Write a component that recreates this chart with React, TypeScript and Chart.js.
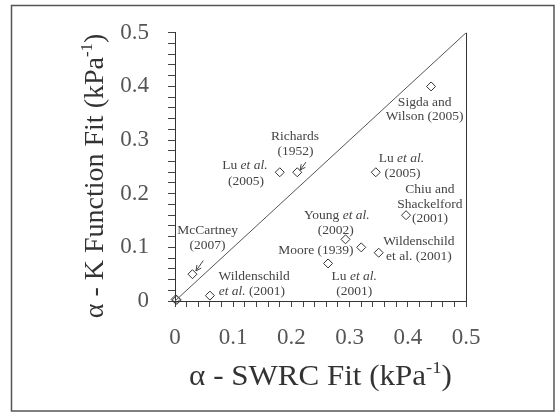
import React, { useEffect, useRef } from 'react';
import { Chart, registerables } from 'chart.js';

Chart.register(...registerables);

const SERIF = '"Liberation Serif", "Times New Roman", serif';

// Study names (for reference) and their fitted alpha values
const studies = [
  'Origin A', 'Origin B', 'McCartney (2007)', 'Wildenschild et al. (2001) a',
  'Lu et al. (2005) a', 'Richards (1952)', 'Lu et al. (2001)', 'Young et al. (2002)',
  'Moore (1939)', 'Lu et al. (2005) b', 'Wildenschild et al. (2001) b',
  'Chiu and Shackelford (2001)', 'Sigda and Wilson (2005)',
];
const swrcAlpha = [0.001, 0.003, 0.03, 0.06, 0.18, 0.21, 0.263, 0.293, 0.32, 0.345, 0.35, 0.397, 0.44];
const kFuncAlpha = [0.003, 0.002, 0.05, 0.01, 0.24, 0.24, 0.07, 0.115, 0.10, 0.24, 0.09, 0.16, 0.40];

const oneToOneX = [0, 0.5];
const oneToOneY = [0, 0.5];

const axisMin = 0;
const axisMax = 0.5;
const tickStep = 0.02;

// Annotation text lines: [x, y, segments] with segments [text, italic]
type Seg = [string, boolean];
const annotationLines: [number, number, Seg[]][] = [
  [0.429, 0.371, [['Sigda and', false]]],
  [0.429, 0.344, [['Wilson (2005)', false]]],
  [0.206, 0.307, [['Richards', false]]],
  [0.207, 0.279, [['(1952)', false]]],
  [0.120, 0.252, [['Lu ', false], ['et al.', true]]],
  [0.122, 0.223, [['(2005)', false]]],
  [0.389, 0.265, [['Lu ', false], ['et al.', true]]],
  [0.391, 0.237, [['(2005)', false]]],
  [0.438, 0.208, [['Chiu and', false]]],
  [0.438, 0.180, [['Shackelford', false]]],
  [0.438, 0.153, [['(2001)', false]]],
  [0.278, 0.160, [['Young ', false], ['et al.', true]]],
  [0.276, 0.132, [['(2002)', false]]],
  [0.056, 0.131, [['McCartney', false]]],
  [0.056, 0.103, [['(2007)', false]]],
  [0.242, 0.094, [['Moore (1939)', false]]],
  [0.419, 0.111, [['Wildenschild', false]]],
  [0.419, 0.083, [['et al. (2001)', false]]],
  [0.308, 0.046, [['Lu ', false], ['et al.', true]]],
  [0.308, 0.018, [['(2001)', false]]],
  [0.136, 0.046, [['Wildenschild', false]]],
  [0.132, 0.017, [['et al.', true], [' (2001)', false]]],
];

// Arrows: [fromX, fromY, toX, toY]
const arrows: [number, number, number, number][] = [
  [0.225, 0.259, 0.215, 0.244],
  [0.0486, 0.0754, 0.036, 0.056],
];

const xTitle = 'α - SWRC Fit (kPa';
const yTitle = 'α - K Function Fit (kPa';
const superscript = '-1';

function isMajor(v: number) {
  return Math.abs(v * 10 - Math.round(v * 10)) < 1e-6;
}
function fmt(v: number) {
  const r = Math.round(v * 10) / 10;
  return r === 0 ? '0' : String(r);
}

function drawTitle(ctx: CanvasRenderingContext2D, main: string, size: number) {
  const supSize = size * 0.6;
  ctx.font = `${size}px ${SERIF}`;
  const w1 = ctx.measureText(main).width;
  const w3 = ctx.measureText(')').width;
  ctx.font = `${supSize}px ${SERIF}`;
  const w2 = ctx.measureText(superscript).width;
  const total = w1 + w2 + w3;
  let x = -total / 2;
  ctx.textAlign = 'left';
  ctx.textBaseline = 'alphabetic';
  ctx.font = `${size}px ${SERIF}`;
  ctx.fillText(main, x, 0);
  x += w1;
  ctx.font = `${supSize}px ${SERIF}`;
  ctx.fillText(superscript, x, -size * 0.4);
  x += w2;
  ctx.font = `${size}px ${SERIF}`;
  ctx.fillText(')', x, 0);
}

const decorPlugin = {
  id: 'decor',
  afterDraw(chart: any) {
    const { ctx, chartArea, scales } = chart;
    const xs = scales.x;
    const ys = scales.y;
    ctx.save();
    // right border of plot
    ctx.strokeStyle = '#333';
    ctx.lineWidth = 1;
    ctx.beginPath();
    ctx.moveTo(Math.round(chartArea.right) + 0.5, chartArea.top);
    ctx.lineTo(Math.round(chartArea.right) + 0.5, chartArea.bottom);
    ctx.stroke();

    // annotation text
    const fs = 13.5;
    ctx.fillStyle = '#444';
    ctx.textBaseline = 'middle';
    ctx.textAlign = 'left';
    for (const [dx, dy, segs] of annotationLines) {
      const cx = xs.getPixelForValue(dx);
      const cy = ys.getPixelForValue(dy);
      let total = 0;
      const widths: number[] = [];
      for (const [t, it] of segs) {
        ctx.font = `${it ? 'italic ' : ''}${fs}px ${SERIF}`;
        const w = ctx.measureText(t).width;
        widths.push(w);
        total += w;
      }
      let x = cx - total / 2;
      segs.forEach(([t, it], i) => {
        ctx.font = `${it ? 'italic ' : ''}${fs}px ${SERIF}`;
        ctx.fillText(t, x, cy);
        x += widths[i];
      });
    }

    // arrows
    ctx.strokeStyle = '#444';
    ctx.lineWidth = 1;
    for (const [fx, fy, tx, ty] of arrows) {
      const x1 = xs.getPixelForValue(fx);
      const y1 = ys.getPixelForValue(fy);
      const x2 = xs.getPixelForValue(tx);
      const y2 = ys.getPixelForValue(ty);
      const ang = Math.atan2(y2 - y1, x2 - x1);
      const hl = 6;
      ctx.beginPath();
      ctx.moveTo(x1, y1);
      ctx.lineTo(x2, y2);
      ctx.moveTo(x2 - hl * Math.cos(ang - 0.45), y2 - hl * Math.sin(ang - 0.45));
      ctx.lineTo(x2, y2);
      ctx.lineTo(x2 - hl * Math.cos(ang + 0.45), y2 - hl * Math.sin(ang + 0.45));
      ctx.stroke();
    }

    // axis titles
    ctx.fillStyle = '#333';
    ctx.save();
    ctx.translate((chartArea.left + chartArea.right) / 2, 385);
    ctx.scale(1.07, 1);
    drawTitle(ctx, xTitle, 29);
    ctx.restore();
    ctx.save();
    ctx.translate(103, 176);
    ctx.rotate(-Math.PI / 2);
    drawTitle(ctx, yTitle, 28);
    ctx.restore();

    // outer frame
    ctx.strokeStyle = '#555';
    ctx.lineWidth = 1.5;
    ctx.strokeRect(11.5, 5.5, 542.5, 405.5);
    ctx.restore();
  },
};

export default function App() {
  const ref = useRef<HTMLCanvasElement | null>(null);
  useEffect(() => {
    if (!ref.current) return;
    const points = swrcAlpha.map((x, i) => ({ x, y: kFuncAlpha[i] }));
    const line = oneToOneX.map((x, i) => ({ x, y: oneToOneY[i] }));
    const tickFont = { family: SERIF, size: 23 };
    const chart = new Chart(ref.current, {
      type: 'scatter',
      data: {
        datasets: [
          {
            type: 'line',
            label: '1:1',
            data: line,
            borderColor: '#555',
            borderWidth: 1,
            pointRadius: 0,
            fill: false,
          } as any,
          {
            label: 'Studies',
            data: points,
            pointStyle: 'rectRot',
            pointRadius: 4.5,
            pointBorderWidth: 1,
            borderColor: '#333',
            backgroundColor: 'rgba(0,0,0,0)',
            clip: false,
          } as any,
        ],
      },
      options: {
        responsive: false,
        animation: false,
        layout: { padding: { left: 0, top: 29, right: 91, bottom: 0 } },
        plugins: { legend: { display: false }, tooltip: { enabled: false } },
        scales: {
          x: {
            type: 'linear',
            min: axisMin,
            max: axisMax,
            afterFit: (s: any) => { s.height = 112; },
            afterBuildTicks: (s: any) => {
              const t = [];
              for (let i = 0; i <= 25; i++) t.push({ value: axisMin + i * tickStep });
              s.ticks = t;
            },
            ticks: {
              autoSkip: false,
              maxRotation: 0,
              padding: 17,
              color: '#555',
              font: tickFont,
              callback: (v: any) => (isMajor(Number(v)) ? fmt(Number(v)) : ''),
            },
            grid: { drawOnChartArea: false, drawTicks: true, tickLength: 6, color: '#444' },
            border: { display: true, color: '#333', width: 1 },
          },
          y: {
            type: 'linear',
            min: axisMin,
            max: axisMax,
            afterFit: (s: any) => { s.width = 175; },
            afterBuildTicks: (s: any) => {
              const t = [];
              for (let i = 0; i <= 25; i++) t.push({ value: axisMin + i * tickStep });
              s.ticks = t;
            },
            ticks: {
              autoSkip: false,
              padding: 19,
              color: '#555',
              font: tickFont,
              callback: (v: any) => (isMajor(Number(v)) ? fmt(Number(v)) : ''),
            },
            grid: { drawOnChartArea: false, drawTicks: true, tickLength: 7, color: '#444' },
            border: { display: true, color: '#333', width: 1 },
          },
        },
      } as any,
      plugins: [decorPlugin],
    });
    return () => chart.destroy();
  }, []);
  return (
    <div style={{ position: 'absolute', left: 0, top: 0, width: 557, height: 413, background: '#fff' }}>
      <canvas ref={ref} width={557} height={413} style={{ display: 'block' }} />
    </div>
  );
}
